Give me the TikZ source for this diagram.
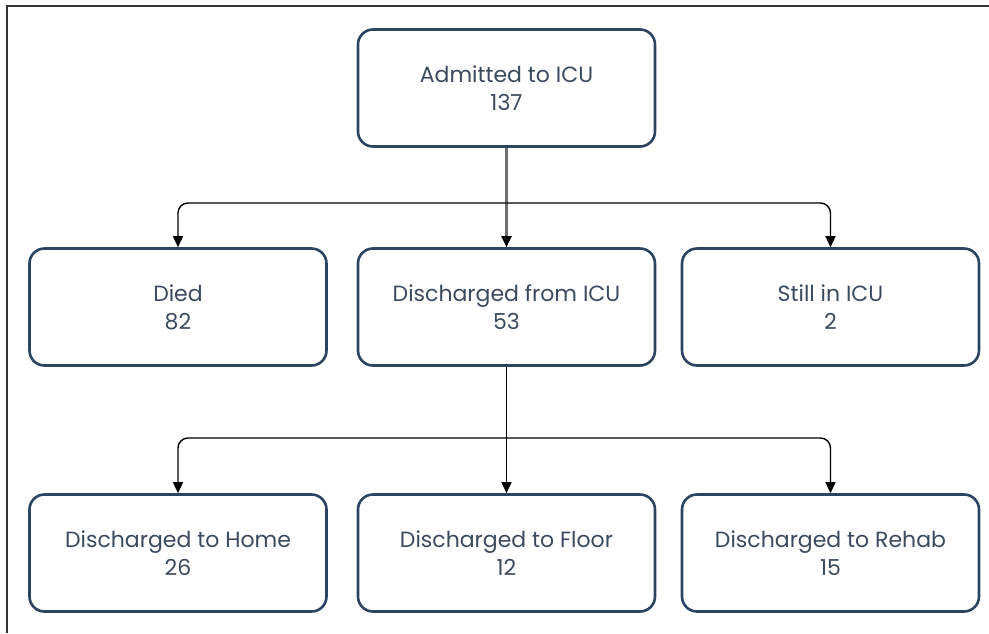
\documentclass[tikz,border=0pt]{standalone}
\usepackage{fontspec}
\setmainfont{Poppins}
\usetikzlibrary{arrows.meta}

\definecolor{boxline}{HTML}{2B4462}
\definecolor{boxtext}{HTML}{3B4A5E}
\definecolor{frameline}{HTML}{333333}
\definecolor{stemline}{HTML}{707070}

\begin{document}
\begin{tikzpicture} [x=1pt, y=-1pt,
    box/.style={draw=boxline, line width=2.6pt, rounded corners=15pt,
        minimum width=297pt, minimum height=117pt, align=center,
        text=boxtext, font=\fontsize{22}{28}\selectfont},
    conn/.style={line width=1.4pt, rounded corners=10pt,
        -{Triangle[width=10pt,length=11pt,color=black]}}]
    \useasboundingbox (0,0) rectangle (989,633);

    % frame (only top and left show)
    \draw[frameline, line width=2pt] (7,633) -- (7,6) -- (989,6);

    % boxes
    \node[box] (admit) at (506.5,88) {Admitted to ICU\\137};

    \node[box] (died)  at (178,307)   {Died\\82};
    \node[box] (disch) at (506.5,307) {Discharged from ICU\\53};
    \node[box] (still) at (830.5,307) {Still in ICU\\2};

    \node[box] (home)  at (178,553)   {Discharged to Home\\26};
    \node[box] (floor) at (506.5,553) {Discharged to Floor\\12};
    \node[box] (rehab) at (830.5,553) {Discharged to Rehab\\15};

    % first split
    \coordinate (split1) at (admit.south |- 0,203);
    \draw[conn, draw=stemline, line width=2.2pt] (admit) -- (disch);
    \draw[conn] (split1) -| (died.north);
    \draw[conn] (split1) -| (still.north);

    % second split
    \coordinate (split2) at (disch.south |- 0,438);
    \draw[conn] (disch) -- (floor);
    \draw[conn] (split2) -| (home.north);
    \draw[conn] (split2) -| (rehab.north);

\end{tikzpicture}
\end{document}
